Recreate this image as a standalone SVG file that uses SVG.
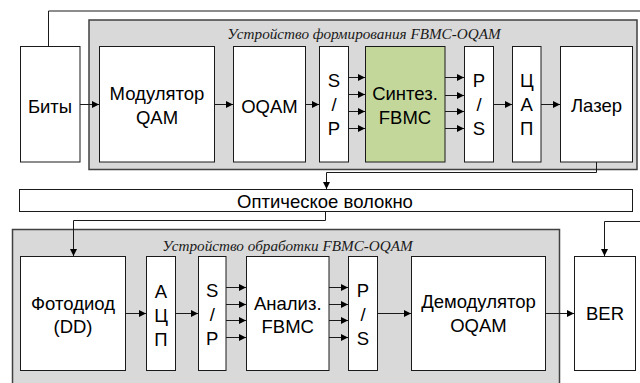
<svg xmlns="http://www.w3.org/2000/svg" width="640" height="383" viewBox="0 0 640 383">
<defs>
<marker id="ah" markerWidth="8" markerHeight="8" refX="7" refY="4" orient="auto" markerUnits="userSpaceOnUse">
<path d="M0,0.5 L7,4 L0,7.5 Z" fill="#000"/>
</marker>
<style>
.grp{fill:#d9d9d9;stroke:#404040;stroke-width:1.5}
.box{fill:#fff;stroke:#1a1a1a;stroke-width:1}
.syn{fill:#c4d79b;stroke:#1a1a1a;stroke-width:1}
.t{font-family:"Liberation Sans",Arial,sans-serif;font-size:18.5px;fill:#000;text-anchor:middle}
.ti{font-family:"Liberation Serif","Times New Roman",serif;font-style:italic;font-size:15.2px;fill:#1a1a1a;text-anchor:middle}
.c{fill:none;stroke:#1a1a1a;stroke-width:1}
.a{fill:none;stroke:#1a1a1a;stroke-width:1;marker-end:url(#ah)}
</style>
</defs>
<rect width="640" height="383" fill="#fff"/>

<g id="tx_device">
<rect class="grp" x="89" y="20" width="548" height="149.5"/>
<text class="ti" x="364" y="39">Устройство формирования FBMC-OQAM</text>
</g>
<g id="rx_device">
<rect class="grp" x="12.5" y="229.5" width="547" height="165"/>
<text class="ti" x="287.5" y="250.5">Устройство обработки FBMC-OQAM</text>
</g>

<g id="bits"><rect class="box" x="20.5" y="46.5" width="59.5" height="115.5"/><text class="t" x="50" y="113">Биты</text></g>
<g id="qam_mod"><rect class="box" x="99.5" y="46.5" width="115" height="115.5"/><text class="t" x="157" y="99.5">Модулятор</text><text class="t" x="157" y="123.5">QAM</text></g>
<g id="oqam"><rect class="box" x="233.5" y="46.5" width="72" height="115.5"/><text class="t" x="269.5" y="113">OQAM</text></g>
<g id="sp_tx"><rect class="box" x="319.5" y="46.5" width="29" height="115.5"/><text class="t" x="334" y="87">S</text><text class="t" x="334" y="111">/</text><text class="t" x="334" y="135">P</text></g>
<g id="synth"><rect class="syn" x="365.5" y="46.5" width="79.5" height="115.5"/><text class="t" x="405" y="99.5">Синтез.</text><text class="t" x="405" y="123.5">FBMC</text></g>
<g id="ps_tx"><rect class="box" x="464.5" y="46.5" width="29" height="115.5"/><text class="t" x="479" y="87">P</text><text class="t" x="479" y="111">/</text><text class="t" x="479" y="135">S</text></g>
<g id="dac"><rect class="box" x="512.5" y="46.5" width="28.5" height="115.5"/><text class="t" x="526.75" y="87">Ц</text><text class="t" x="526.75" y="111">А</text><text class="t" x="526.75" y="135">П</text></g>
<g id="laser"><rect class="box" x="560.5" y="46.5" width="72" height="115.5"/><text class="t" x="596.5" y="112">Лазер</text></g>

<g id="fiber"><rect class="box" x="19.5" y="189.5" width="613" height="22"/><text class="t" x="325" y="208">Оптическое волокно</text></g>

<g id="photodiode"><rect class="box" x="20.5" y="256.5" width="105" height="114"/><text class="t" x="73" y="310">Фотодиод</text><text class="t" x="73" y="333">(DD)</text></g>
<g id="adc"><rect class="box" x="146.5" y="256.5" width="29" height="114"/><text class="t" x="161" y="298">А</text><text class="t" x="161" y="322">Ц</text><text class="t" x="161" y="346">П</text></g>
<g id="sp_rx"><rect class="box" x="198.5" y="256.5" width="27.5" height="114"/><text class="t" x="212.25" y="297">S</text><text class="t" x="212.25" y="321">/</text><text class="t" x="212.25" y="345">P</text></g>
<g id="analysis"><rect class="box" x="246.5" y="256.5" width="82.5" height="114"/><text class="t" x="287.75" y="309.5">Анализ.</text><text class="t" x="287.75" y="332.5">FBMC</text></g>
<g id="ps_rx"><rect class="box" x="348.5" y="256.5" width="29" height="114"/><text class="t" x="363" y="297">P</text><text class="t" x="363" y="321">/</text><text class="t" x="363" y="345">S</text></g>
<g id="oqam_demod"><rect class="box" x="411.5" y="256.5" width="134" height="114"/><text class="t" x="478.5" y="308">Демодулятор</text><text class="t" x="478.5" y="332">OQAM</text></g>
<g id="ber"><rect class="box" x="574.5" y="256.5" width="61" height="114"/><text class="t" x="605" y="320">BER</text></g>

<g id="connectors">
<path class="c" d="M48.5,46.5 V11 H640"/>
<path class="a" d="M80,104.5 H99"/>
<path class="a" d="M214.5,104.5 H233"/>
<path class="a" d="M305.5,104.5 H319"/>
<path class="a" d="M348.5,77.5 H365"/>
<path class="a" d="M348.5,94.5 H365"/>
<path class="a" d="M348.5,111.5 H365"/>
<path class="a" d="M348.5,128.5 H365"/>
<path class="a" d="M445,77.5 H464"/>
<path class="a" d="M445,95.5 H464"/>
<path class="a" d="M445,111.5 H464"/>
<path class="a" d="M445,128.5 H464"/>
<path class="a" d="M493.5,104.5 H512"/>
<path class="a" d="M541,104.5 H560"/>
<path class="a" d="M596.5,162 V172.5 H326.5 V189"/>
<path class="a" d="M325.5,211.5 V220.5 H73.5 V256"/>
<path class="a" d="M125.5,313.5 H146"/>
<path class="a" d="M175.5,313.5 H198"/>
<path class="a" d="M226,287.5 H246"/>
<path class="a" d="M226,304.5 H246"/>
<path class="a" d="M226,320.5 H246"/>
<path class="a" d="M226,337.5 H246"/>
<path class="a" d="M329,287.5 H348"/>
<path class="a" d="M329,304.5 H348"/>
<path class="a" d="M329,320.5 H348"/>
<path class="a" d="M329,337.5 H348"/>
<path class="a" d="M377.5,313.5 H411"/>
<path class="a" d="M545.5,313.5 H574"/>
<path class="a" d="M640,221.5 H604.5 V256"/>
</g>
</svg>
